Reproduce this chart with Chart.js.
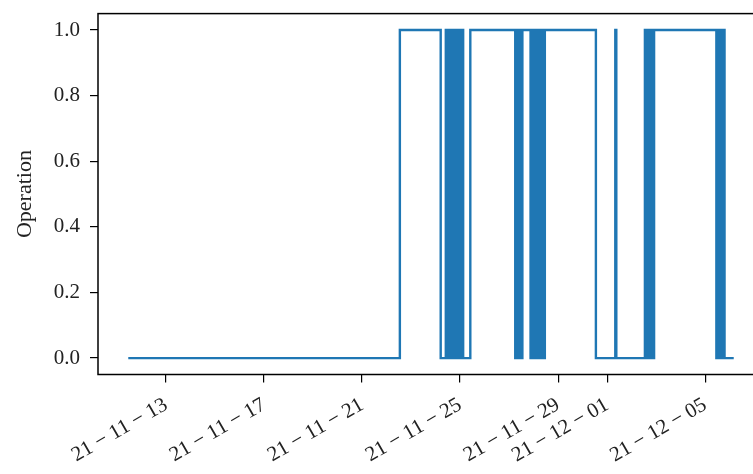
<!DOCTYPE html>
<html>
<head>
<meta charset="utf-8">
<script src="https://cdn.jsdelivr.net/npm/chart.js@4.4.1/dist/chart.umd.min.js"></script>
<style>
  html, body { margin: 0; padding: 0; background: #fff; overflow: hidden; }
  #wrap { width: 776px; height: 474px; }
</style>
</head>
<body>
<div id="wrap"><canvas id="opChart" width="776" height="474"></canvas></div>
<script>
// state changes of the unit: time of change -> new operation state
const stateTimes = [
    '2021-11-11 11:00',
    '2021-11-22 13:00', '2021-11-24 05:00',
    '2021-11-24 10:00', '2021-11-24 12:00', '2021-11-24 13:00', '2021-11-24 15:00',
    '2021-11-24 16:00', '2021-11-24 18:00', '2021-11-24 19:00', '2021-11-24 21:00',
    '2021-11-24 22:00', '2021-11-25 00:00', '2021-11-25 01:00', '2021-11-25 03:00',
    '2021-11-25 10:00',
    '2021-11-27 06:00', '2021-11-27 07:00', '2021-11-27 09:00', '2021-11-27 10:00',
    '2021-11-27 12:00', '2021-11-27 13:00',
    '2021-11-27 21:00', '2021-11-27 22:00', '2021-11-28 00:00', '2021-11-28 01:00',
    '2021-11-28 03:00', '2021-11-28 04:00', '2021-11-28 06:00', '2021-11-28 07:00',
    '2021-11-28 09:00', '2021-11-28 11:00',
    '2021-11-30 13:00',
    '2021-12-01 08:00', '2021-12-01 09:00',
    '2021-12-02 13:00', '2021-12-02 14:00', '2021-12-02 15:00', '2021-12-02 17:00',
    '2021-12-02 18:00', '2021-12-02 20:00', '2021-12-02 22:00',
    '2021-12-05 11:00', '2021-12-05 12:00', '2021-12-05 14:00', '2021-12-05 15:00',
    '2021-12-05 17:00', '2021-12-05 18:00', '2021-12-05 19:00',
    '2021-12-06 04:00'
];
const stateValues = [
    0,
    1, 0,
    1, 0, 1, 0,
    1, 0, 1, 0,
    1, 0, 1, 0,
    1,
    0, 1, 0, 1,
    0, 1,
    0, 1, 0, 1,
    0, 1, 0, 1,
    0, 1,
    0,
    1, 0,
    1, 0, 1, 0,
    1, 0, 1,
    0, 1, 0, 1,
    0, 1, 0,
    0
];

const tickDates = ['2021-11-13', '2021-11-17', '2021-11-21', '2021-11-25', '2021-11-29', '2021-12-01', '2021-12-05'];
const tickLabels = ['21 − 11 − 13', '21 − 11 − 17', '21 − 11 − 21', '21 − 11 − 25', '21 − 11 − 29', '21 − 12 − 01', '21 − 12 − 05'];
const yTicks = [0, 0.2, 0.4, 0.6, 0.8, 1.0];

// days since 31 Oct 2021, so the 13th of November is 13
function toDay(s) {
    const [d, t = '00:00'] = s.split(' ');
    const [y, m, dd] = d.split('-').map(Number);
    const [hh, mm] = t.split(':').map(Number);
    return (Date.UTC(y, m - 1, dd, hh, mm) - Date.UTC(2021, 9, 31)) / 864e5;
}

const points = stateTimes.map((t, i) => ({ x: toDay(t), y: stateValues[i] }));
const first = points[0].x;
const last = points[points.length - 1].x;
const margin = (last - first) * 0.05;

const serif = "'Liberation Serif', 'DejaVu Serif', serif";

const frame = {
    id: 'frame',
    afterDatasetsDraw(chart) {
        const { ctx, chartArea: a } = chart;
        ctx.save();
        ctx.strokeStyle = '#000';
        ctx.lineWidth = 1.5;
        ctx.strokeRect(a.left, a.top, a.right - a.left, a.bottom - a.top);
        ctx.restore();
    }
};

new Chart(document.getElementById('opChart'), {
    type: 'line',
    data: {
        datasets: [{
            data: points,
            stepped: true,
            borderColor: '#1f77b4',
            borderWidth: 2.4,
            pointRadius: 0,
            fill: false
        }]
    },
    options: {
        responsive: false,
        animation: false,
        layout: { padding: { top: 13.6, right: 12, left: 0, bottom: 0 } },
        plugins: {
            legend: { display: false },
            tooltip: { enabled: false }
        },
        scales: {
            x: {
                type: 'linear',
                min: first - margin,
                max: last + margin,
                afterBuildTicks: (axis) => {
                    axis.ticks = tickDates.map(d => ({ value: toDay(d) }));
                },
                afterFit: (axis) => {
                    axis.height = 99.5;
                    axis.paddingLeft = 0;
                    axis.paddingRight = 0;
                },
                grid: { drawOnChartArea: false, drawTicks: true, tickLength: 8, color: '#000', lineWidth: 1.2 },
                border: { display: false },
                ticks: {
                    autoSkip: false,
                    minRotation: 30,
                    maxRotation: 30,
                    padding: 10,
                    color: '#222',
                    font: { family: serif, size: 21 },
                    callback: (v) => {
                        const i = tickDates.findIndex(d => Math.abs(toDay(d) - v) < 1e-6);
                        return i >= 0 ? tickLabels[i] : '';
                    }
                }
            },
            y: {
                min: -0.05,
                max: 1.05,
                afterBuildTicks: (axis) => {
                    axis.ticks = yTicks.map(v => ({ value: v }));
                },
                afterFit: (axis) => {
                    axis.width = 98;
                    axis.paddingTop = 0;
                    axis.paddingBottom = 0;
                },
                grid: { drawOnChartArea: false, drawTicks: true, tickLength: 8, color: '#000', lineWidth: 1.2 },
                border: { display: false },
                title: {
                    display: true,
                    text: 'Operation',
                    color: '#222',
                    font: { family: serif, size: 22 },
                    padding: { top: 12, bottom: 0 }
                },
                ticks: {
                    padding: 10,
                    color: '#222',
                    font: { family: serif, size: 21 },
                    callback: (v) => Number(v).toFixed(1)
                }
            }
        }
    },
    plugins: [frame]
});
</script>
</body>
</html>
